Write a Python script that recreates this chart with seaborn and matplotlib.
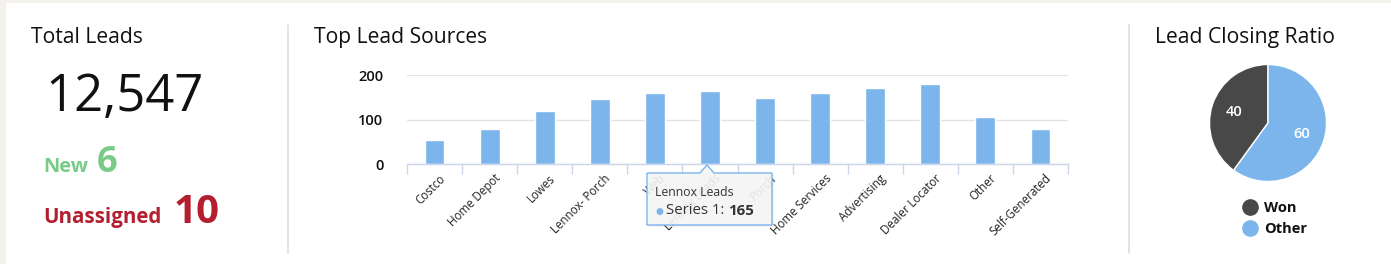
import numpy as np
import pandas as pd
import matplotlib
matplotlib.use("Agg")
import matplotlib.pyplot as plt
import matplotlib.transforms as mtransforms
from matplotlib.patches import Rectangle, Polygon
from matplotlib.lines import Line2D
import seaborn as sns

# ---------------- data ----------------
total_leads = 12547
new_leads = 6
unassigned_leads = 10
categories = ["Costco", "Home Depot", "Lowes", "Lennox- Porch", "Web",
              "Lennox Leads", "Porch", "Home Services", "Advertising",
              "Dealer Locator", "Other", "Self-Generated"]
lead_counts = [55, 79, 120, 147, 160, 165, 149, 160, 170, 180, 106, 79]
y_ticks = [0, 100, 200]
tooltip_category = "Lennox Leads"
series_name = "Series 1"
ratio_labels = ["Won", "Other"]
ratio_values = [40, 60]

# ---------------- style ----------------
sns.set_theme(style="white")
plt.rcParams["font.family"] = ["Open Sans", "DejaVu Sans"]

BLUE = "#7cb5ec"
DARK = "#484848"
GREEN = "#7acb88"
RED = "#b41f2f"

W, H = 1391, 264
fig = plt.figure(figsize=(W / 100, H / 100), dpi=100)
fig.patch.set_facecolor("#f5f2ee")
# pixel transform: (x, y) measured from top-left in pixels
tr = mtransforms.Affine2D().scale(1 / W, -1 / H).translate(0, 1) + fig.transFigure

def ax_rect(x0, y0, x1, y1):
    return [x0 / W, 1 - y1 / H, (x1 - x0) / W, (y1 - y0) / H]

# white card
fig.add_artist(Rectangle((6, 3), W, H, transform=tr, facecolor="white",
                         edgecolor="none", zorder=-5))
# dividers
for xd in (288, 1129):
    fig.add_artist(Line2D([xd, xd], [25, 253], transform=tr, color="#dedede",
                          lw=1.2, zorder=1))

# ---------------- Total Leads panel ----------------
fig.text(31, 43, "Total Leads", transform=tr, fontsize=15.2, color="#111111",
         va="baseline", ha="left")
fig.text(45, 111, f"{total_leads:,}", transform=tr, fontsize=36.5, color="#111111",
         va="baseline", ha="left", fontweight="normal")
fig.text(43, 172, "New", transform=tr, fontsize=14.5, color=GREEN,
         va="baseline", ha="left", fontweight="bold")
fig.text(97, 172, f"{new_leads}", transform=tr, fontsize=26, color=GREEN,
         va="baseline", ha="left", fontweight="bold")
fig.text(43, 223, "Unassigned", transform=tr, fontsize=14.8, color=RED,
         va="baseline", ha="left", fontweight="bold")
fig.text(174, 223, f"{unassigned_leads}", transform=tr, fontsize=29, color=RED,
         va="baseline", ha="left", fontweight="bold")

# ---------------- Top Lead Sources ----------------
fig.text(314, 43, "Top Lead Sources", transform=tr, fontsize=15.2, color="#111111",
         va="baseline", ha="left")

ax = fig.add_axes(ax_rect(407, 75, 1068, 164))
df = pd.DataFrame({"source": categories, "leads": lead_counts})
sns.barplot(data=df, x="source", y="leads", color=BLUE, saturation=1,
            width=0.36, ax=ax, zorder=3)
ax.set_xlim(-0.5, len(categories) - 0.5)
ax.set_ylim(0, max(y_ticks))
ax.set_yticks(y_ticks)
ax.set_yticklabels([str(v) for v in y_ticks], fontsize=10.5, color="#111111",
                   fontweight="semibold")
ax.tick_params(axis="y", length=0, pad=17)
ax.set_xticks(range(len(categories)))
ax.set_xticklabels(categories, rotation=45, ha="right", rotation_mode="anchor",
                   va="center", fontsize=8.3, color="#222222")
ax.tick_params(axis="x", which="major", length=0, pad=9)
shift = mtransforms.ScaledTranslation(9 / 100, 0, fig.dpi_scale_trans)
for lab in ax.get_xticklabels():
    lab.set_transform(lab.get_transform() + shift)
ax.set_xticks(np.arange(-0.5, len(categories)), minor=True)
ax.tick_params(axis="x", which="minor", length=7.5, width=1, color="#ccd6eb",
               direction="out", bottom=True)
ax.set_xlabel("")
ax.set_ylabel("")
ax.grid(axis="y", color="#e3e3e3", lw=1, zorder=0)
ax.set_axisbelow(True)
for s in ("top", "right", "left"):
    ax.spines[s].set_visible(False)
ax.spines["bottom"].set_color("#ccd6eb")
ax.spines["bottom"].set_linewidth(1)
ax.spines["bottom"].set_zorder(4)
ax.patch.set_alpha(0)

# tooltip
ti = categories.index(tooltip_category)
tip_val = lead_counts[ti]
box = [(647, 173), (700, 173), (707, 165), (714, 173), (772, 173), (772, 225), (647, 225)]
shadow = [(x + 1.5, y + 1.5) for x, y in box]
fig.add_artist(Polygon(shadow, closed=True, transform=tr, facecolor="#000000",
                       alpha=0.08, edgecolor="none", zorder=9))
fig.add_artist(Polygon(box, closed=True, transform=tr, facecolor="#f7f7f7",
                       alpha=0.9, edgecolor="none", zorder=10))
fig.add_artist(Polygon(box, closed=True, transform=tr, facecolor="none",
                       edgecolor=BLUE, lw=1, zorder=11))
fig.text(655, 196, tooltip_category, transform=tr, fontsize=8.8, color="#333333",
         va="baseline", ha="left", zorder=12)
fig.text(655, 214, "\u25CF", transform=tr, fontsize=6.5, color=BLUE,
         va="baseline", ha="left", zorder=12)
t1 = fig.text(666, 214, f"{series_name}: ", transform=tr, fontsize=10.8, color="#333333",
              va="baseline", ha="left", zorder=12)
fig.add_artist(plt.Annotation(f"{tip_val}", xy=(1, 0), xycoords=t1, va="bottom",
                              ha="left", fontsize=10.8, color="#333333",
                              fontweight="bold", zorder=12))

# ---------------- Lead Closing Ratio ----------------
fig.text(1155, 43, "Lead Closing Ratio", transform=tr, fontsize=15.2, color="#111111",
         va="baseline", ha="left")
r = 58.5
axp = fig.add_axes(ax_rect(1268 - r, 123 - r, 1268 + r, 123 + r))
total = sum(ratio_values)
wedges, texts, autotexts = axp.pie(
    ratio_values, colors=[DARK, BLUE], startangle=90, counterclock=True,
    autopct=lambda p: f"{p * total / 100:.0f}", pctdistance=0.6,
    wedgeprops=dict(edgecolor="white", linewidth=1),
    textprops=dict(color="white", fontsize=10.5, fontweight="semibold"))
axp.set_xlim(-1, 1)
axp.set_ylim(-1, 1)
axp.set_aspect("equal")
axp.axis("off")

handles = [Line2D([], [], marker="o", ls="none", markersize=11,
                  markerfacecolor=c, markeredgecolor=c) for c in (DARK, BLUE)]
leg = fig.legend(handles, ratio_labels, loc="upper left",
                 bbox_to_anchor=(1234 / W, 1 - 194 / H), bbox_transform=fig.transFigure,
                 frameon=False, handletextpad=0.35, labelspacing=0.45,
                 prop=dict(size=10.5, weight="bold"), borderpad=0, handlelength=1.2)
for t in leg.get_texts():
    t.set_color("#111111")

fig.savefig("out.png", dpi=100, facecolor=fig.get_facecolor())
